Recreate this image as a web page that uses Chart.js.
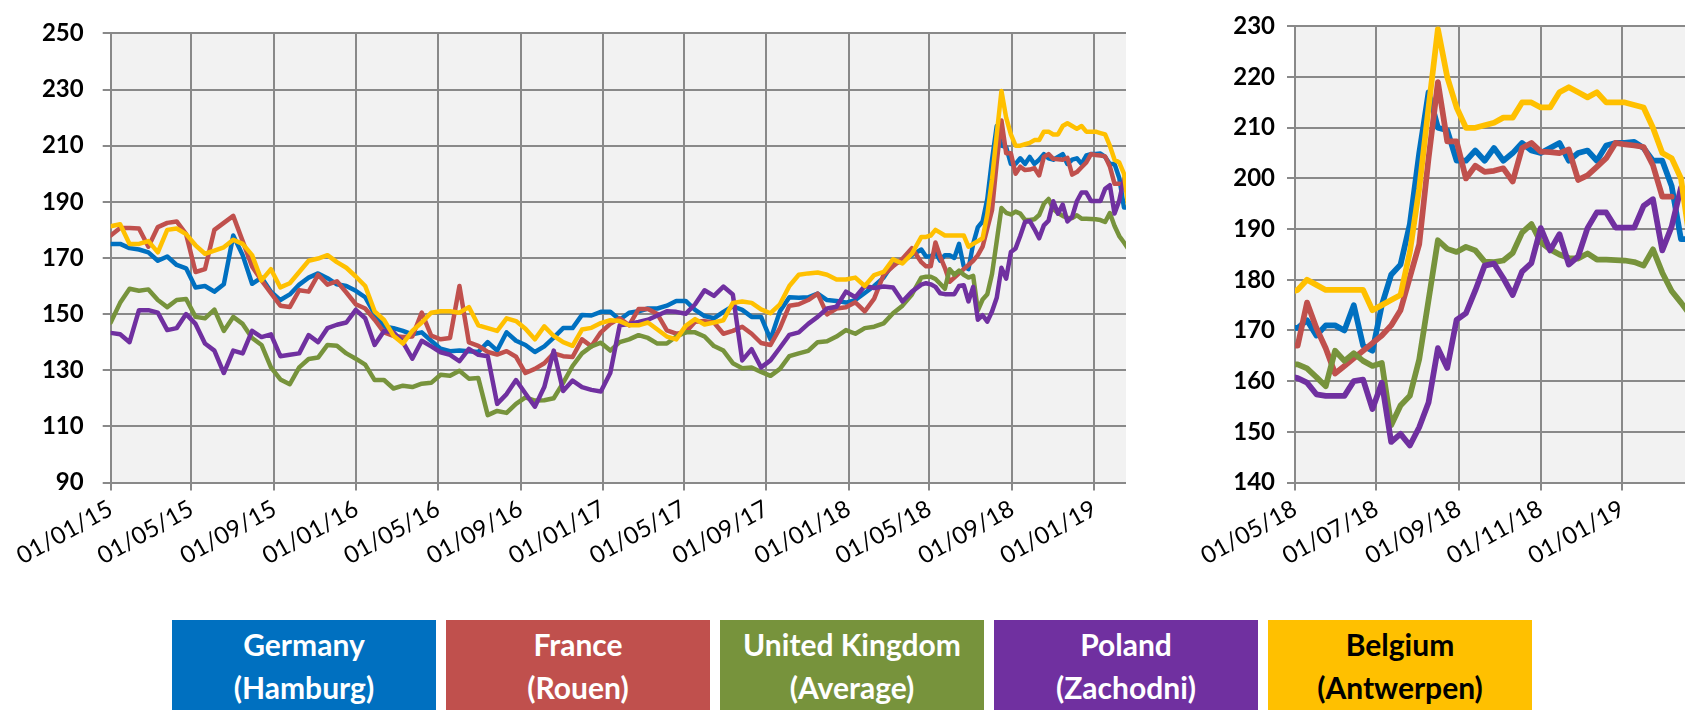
<!DOCTYPE html>
<html>
<head>
<meta charset="utf-8">
<script src="https://cdn.jsdelivr.net/npm/chart.js@4.4.1/dist/chart.umd.min.js"></script>
<style>
  html, body { margin: 0; padding: 0; background: #fff; overflow: hidden; }
  body { width: 1685px; height: 710px; position: relative; font-family: Lato, 'Open Sans', sans-serif; }
  canvas { position: absolute; top: 0; }
  #leftChart { left: 0; }
  #rightChart { left: 1150px; }
  .legend-item {
    position: absolute; top: 620px; width: 264px; height: 100px;
    box-sizing: border-box; padding-top: 3px; text-align: center;
    font-weight: 700; font-size: 30px; line-height: 43px; color: #fff;
  }
</style>
</head>
<body>
<canvas id="leftChart" width="1126" height="600"></canvas>
<canvas id="rightChart" width="535" height="600"></canvas>
<div id="legend"></div>

<script>
// fortnightly readings from 01/01/15, then weekly readings from 26/04/18
const histStart = '01/01/15';
const recentStart = '26/04/18';
const axisEnd = '17/02/19';

const germanyHist = [175, 175, 173.5, 173, 172, 169, 170.5, 167.5, 166.3, 159.5, 160, 158, 160.6, 178, 171, 160.8, 163, 158, 155, 157, 160.5, 163, 164.5, 162.8, 160.6, 160, 158.3, 156,
  150, 145.6, 145, 144, 142.8, 143.5, 140.5, 137.7, 136.8, 137, 136.8, 136.5, 140, 137, 143.5, 140.5, 139, 136.5, 138.5, 141.6, 145, 145, 149.7, 149.5, 150.8, 150.8, 148,
  150.5, 151, 152, 152, 153, 154.7, 154.7, 151.5, 149.3, 148.5, 150.8, 152.8, 151.5, 149, 149, 141, 151, 156, 155.8, 156, 157.3, 155, 154.7, 154.1, 155, 157.5, 160, 163,
  168, 168.8, 171, 173];
const franceHist = [178, 180.7, 180.7, 180.5, 174, 181, 182.5, 183, 178.5, 165, 166, 180, 182.5, 185, 176, 167, 162, 157.5, 153, 152.5, 158.5, 158, 164, 160.5, 161.7, 157.7, 153.5, 152,
  148, 143.5, 142.2, 141.8, 142, 150.5, 142.3, 141, 141.5, 160, 139.9, 138.7, 136.5, 135.6, 136.8, 134.8, 129, 130.5, 132.5, 136, 135, 134.7, 141, 138.5, 143.5, 146.5, 148.5,
  146, 151.8, 151.8, 150, 144.2, 143, 143.5, 147.3, 147.5, 147, 143, 144, 145.5, 143, 139.7, 139, 145, 153, 153.5, 155, 157.3, 149.9, 152, 152.4, 154.2, 151, 155.5, 164,
  167, 169.7, 173.5, 168.5];
const ukHist = [147, 154, 159, 158.3, 158.8, 155, 152.5, 155, 155.4, 149, 148.5, 151.6, 144, 149, 146.5, 141.5, 139, 131, 126.7, 125, 131, 134, 134.5, 139, 138.7, 136, 134.1, 132,
  126.5, 126.5, 123.5, 124.5, 124, 125.2, 125.5, 128.4, 128, 129.8, 127, 127.2, 114, 115.5, 114.8, 118, 120.3, 119.2, 119.3, 120, 125.5, 131.5, 136, 138.5, 139.8, 137, 140,
  141, 142.5, 141.5, 139.5, 139.5, 142, 143.5, 143.5, 142, 138.6, 137, 132.5, 130.7, 131, 129.4, 128, 130.5, 135, 136, 136.9, 140, 140.3, 142, 144.3, 143, 145, 145.5, 146.7,
  150.3, 153, 157, 163];
const polandHist = [143.3, 142.8, 140, 151.4, 151.4, 150.5, 144.3, 145, 150, 146.5, 139.5, 137, 129, 137, 136, 144, 141.8, 142.8, 135, 135.5, 136, 142.5, 140, 145, 146.2, 147, 151.5, 148.5,
  139, 144, 143.5, 140, 134.1, 140.5, 138.5, 136.4, 135.5, 133.2, 137.6, 135.5, 135, 118, 121.5, 126.5, 121.7, 117, 124, 137, 122.6, 126.3, 124, 123, 122.4, 129, 146,
  146.5, 147.2, 148, 149.5, 151, 150.8, 150.1, 153.5, 158.5, 156.5, 159.8, 157, 133.5, 137.5, 131, 133.5, 138, 142.6, 143.5, 146.5, 149, 152, 152.6, 158, 156, 160, 159.3, 159.8,
  159.5, 154.5, 158, 160.5];
const belgiumHist = [181.3, 182, 175, 175, 176, 172, 180, 180.5, 178.5, 174.5, 171.5, 172.6, 173.8, 176.5, 175, 171, 162, 166, 159.5, 161, 165, 169, 169.8, 171, 168.5, 166.5, 163.4, 160,
  151, 147.9, 142.3, 139.5, 144, 147, 150.5, 151, 151, 150.5, 152.5, 146, 145, 144, 148.5, 147.5, 144.8, 141, 145.6, 142.2, 140, 138.7, 144.5, 145.1, 146.8, 147.8, 147.5,
  146, 146, 147, 144.5, 142, 141, 145.8, 148.2, 146.3, 147, 147.8, 154, 154.5, 154, 151.7, 150.3, 153.5, 160, 164, 164.5, 164.8, 164, 162.3, 162.3, 163, 160, 163.9, 165,
  169.5, 168, 171.5, 177.5];

const germanyRecent = [170.5, 170.5, 172, 169, 171, 171, 170, 175, 167, 166, 175, 181, 183, 191, 205, 217, 210, 209.5, 203.5, 203.5, 205.5, 203.5, 206, 203.5, 205, 207, 205.5, 205, 206, 207, 203.5, 205, 205.5, 203.5, 206.5, 207, 207, 207.2, 206, 203.5, 203.5, 198.5, 188, 188];
const franceRecent = [167, 167, 175.5, 170.5, 166.5, 161.5, 163, 164.5, 166, 167.5, 169, 171, 174, 180.5, 187, 204, 219, 207.3, 207.3, 200, 202.5, 201.3, 201.5, 202, 199.4, 206, 207, 205.3, 205.2, 205, 205.7, 199.7, 200.6, 202.3, 204, 207, 206.7, 206.5, 206.2, 202.6, 196.4, 196.4, null, null];
const ukRecent = [163.3, 163.3, 162.5, 160.8, 159, 166, 164, 165.5, 164, 163, 163.6, 151.3, 155.2, 157.1, 164.3, 176, 187.8, 186.1, 185.5, 186.5, 185.8, 183.6, 183.5, 183.8, 185.3, 189.3, 191, 187.4, 186, 185, 184.3, 184.2, 185.2, 184, 184, 183.9, 183.8, 183.5, 182.8, 186, 181.4, 177.8, 175.5, 173];
const polandRecent = [161, 160.6, 159.7, 157.4, 157.1, 157.1, 157.1, 160, 160.3, 154.5, 159.7, 148, 149.6, 147.3, 150.9, 155.8, 166.5, 162.6, 172.1, 173.4, 177.9, 182.8, 183.2, 180.3, 177, 181.6, 183.3, 190.2, 185.8, 189, 183, 184.6, 190.2, 193.3, 193.3, 190.3, 190.3, 190.3, 194.6, 195.9, 185.8, 190.5, 198.2, 196];
const belgiumRecent = [177.5, 178, 180, 179, 178, 178, 178, 178, 178, 174, 175, 176, 177, 185.5, 198, 214, 229.5, 220, 214, 210, 210, 210.5, 211, 212, 212, 215, 215, 214, 214, 217, 218, 217, 216, 217, 215, 215, 215, 214.5, 214, 210, 205, 204, 200, 187];

const seriesNames = ['Germany', 'France', 'United Kingdom', 'Poland', 'Belgium'];
const seriesPlaces = ['(Hamburg)', '(Rouen)', '(Average)', '(Zachodni)', '(Antwerpen)'];
const seriesColors = ['#0070C0', '#C0504D', '#77933C', '#7030A0', '#FFC000'];
const histValues = [germanyHist, franceHist, ukHist, polandHist, belgiumHist];
const recentValues = [germanyRecent, franceRecent, ukRecent, polandRecent, belgiumRecent];

const leftTickLabels = ['01/01/15', '01/05/15', '01/09/15', '01/01/16', '01/05/16', '01/09/16', '01/01/17',
  '01/05/17', '01/09/17', '01/01/18', '01/05/18', '01/09/18', '01/01/19'];
const rightTickLabels = ['01/05/18', '01/07/18', '01/09/18', '01/11/18', '01/01/19'];
const leftYTicks = [90, 110, 130, 150, 170, 190, 210, 230, 250];
const rightYTicks = [140, 150, 160, 170, 180, 190, 200, 210, 220, 230];

const gridColor = '#898989';

function dayNum(s) {
    const [d, m, y] = s.split('/').map(Number);
    return (Date.UTC(2000 + y, m - 1, d) - Date.UTC(2015, 0, 1)) / 864e5;
}

function buildSeries(hist, recent) {
    const h0 = dayNum(histStart);
    const r0 = dayNum(recentStart);
    const pts = hist.map((v, i) => ({ x: h0 + 14 * i, y: v }));
    return pts.concat(recent.map((v, i) => ({ x: r0 + 7 * i, y: v })));
}

const plotBg = {
    id: 'plotBg',
    beforeDraw(chart) {
        const { ctx, chartArea: a } = chart;
        ctx.save();
        ctx.fillStyle = '#F2F2F2';
        ctx.fillRect(a.left, a.top, a.right - a.left, a.bottom - a.top);
        ctx.restore();
    }
};

function makeChart(id, withHist, yTicks, xTickLabels, xStart, yAxisWidth, yPad, lineWidth) {
    const tickDays = xTickLabels.map(dayNum);
    new Chart(document.getElementById(id), {
        type: 'line',
        data: {
            datasets: seriesNames.map((name, i) => ({
                label: name,
                data: buildSeries(withHist ? histValues[i] : [], recentValues[i]),
                borderColor: seriesColors[i],
                backgroundColor: seriesColors[i],
                borderWidth: lineWidth,
                pointRadius: 0,
                tension: 0,
                borderJoinStyle: 'round',
                borderCapStyle: 'round',
                order: seriesNames.length - i
            }))
        },
        options: {
            responsive: false,
            animation: false,
            layout: { padding: { top: 22.6, right: 0, left: 0, bottom: 0 } },
            plugins: { legend: { display: false }, tooltip: { enabled: false } },
            scales: {
                x: {
                    type: 'linear',
                    min: dayNum(xStart),
                    max: dayNum(axisEnd),
                    afterBuildTicks: s => { s.ticks = tickDays.map(v => ({ value: v })); },
                    afterFit: s => { s.height = 117.5; },
                    grid: { color: gridColor, lineWidth: 2, tickLength: 8, tickColor: gridColor },
                    border: { color: gridColor, width: 2 },
                    ticks: {
                        autoSkip: false, minRotation: 29, maxRotation: 29, padding: 4,
                        color: '#000', font: { family: 'Lato', size: 24 },
                        callback: v => xTickLabels[tickDays.indexOf(v)]
                    }
                },
                y: {
                    min: yTicks[0],
                    max: yTicks[yTicks.length - 1],
                    afterBuildTicks: s => { s.ticks = yTicks.map(v => ({ value: v })); },
                    afterFit: s => { s.width = yAxisWidth; },
                    grid: { color: gridColor, lineWidth: 2, tickLength: 8, tickColor: gridColor },
                    border: { color: gridColor, width: 2 },
                    ticks: {
                        padding: yPad, color: '#000',
                        font: { family: 'Lato', size: 24, weight: 'bold' }
                    }
                }
            }
        },
        plugins: [plotBg]
    });
}

makeChart('leftChart', true, leftYTicks, leftTickLabels, histStart, 110.7, 19, 4.5);
makeChart('rightChart', false, rightYTicks, rightTickLabels, '01/05/18', 145, 12, 5.75);

const legend = document.getElementById('legend');
seriesNames.forEach((name, i) => {
    const box = document.createElement('div');
    box.className = 'legend-item';
    box.style.left = (172 + i * 274) + 'px';
    box.style.background = seriesColors[i];
    if (i === 4) box.style.color = '#000';
    box.innerHTML = name + '<br>' + seriesPlaces[i];
    legend.appendChild(box);
});
</script>
</body>
</html>
